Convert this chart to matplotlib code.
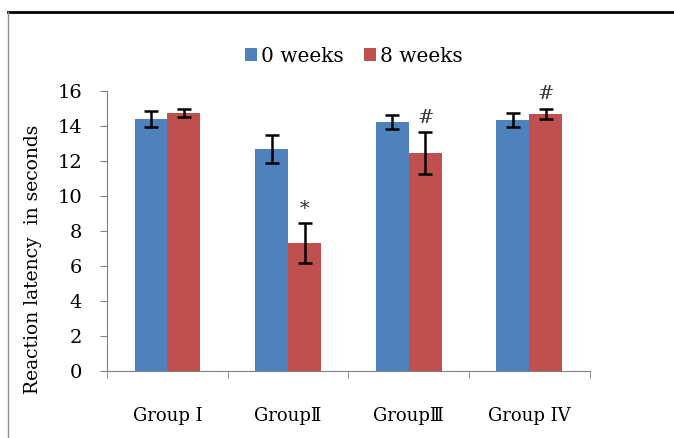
import matplotlib.pyplot as plt
import numpy as np
from matplotlib.lines import Line2D

groups = ["Group I", "Group\u2161", "Group\u2162", "Group IV"]
week0 = [14.4, 12.7, 14.25, 14.35]
week0_err = [0.45, 0.8, 0.4, 0.4]
week8 = [14.75, 7.3, 12.45, 14.7]
week8_err = [0.25, 1.15, 1.2, 0.3]
marks = ["", "*", "#", "#"]

plt.rcParams["font.family"] = ["DejaVu Serif"]

fig = plt.figure(figsize=(6.74, 4.38), dpi=100)
ax = fig.add_axes([0.159, 0.153, 0.716, 0.639])

x = np.arange(len(groups))
w = 0.273
err_style = dict(ecolor="black", elinewidth=1.8, capsize=5, capthick=1.8)
ax.bar(x - w / 2, week0, w, yerr=week0_err, color="#4F81BD", label="0 weeks",
       error_kw=err_style)
ax.bar(x + w / 2, week8, w, yerr=week8_err, color="#C0504D", label="8 weeks",
       error_kw=err_style)

for xi, v, e, m in zip(x, week8, week8_err, marks):
    if m:
        ax.text(xi + w / 2, v + e + 0.3, m, ha="center", va="bottom",
                fontsize=14, color="#333333")

ax.set_xlim(-0.5, len(groups) - 0.5)
ax.set_ylim(0, 16)
ax.set_yticks(range(0, 17, 2))
ax.set_xticks(x)
ax.set_xticklabels(groups, fontsize=13)
ax.set_xticks(np.arange(-0.5, len(groups), 1), minor=True)
ax.tick_params(axis="x", which="major", length=0, pad=26)
ax.tick_params(axis="x", which="minor", length=5, color="#808080", direction="out")
ax.tick_params(axis="y", labelsize=14, length=5, color="#808080", direction="out",
               pad=13)
for s in ["top", "right"]:
    ax.spines[s].set_visible(False)
for s in ["left", "bottom"]:
    ax.spines[s].set_color("#808080")
ax.set_ylabel("Reaction latency  in seconds", fontsize=13.5)
ax.yaxis.set_label_coords(-0.135, 0.40)

fig.legend(loc="center", bbox_to_anchor=(0.525, 0.872), ncol=2, frameon=False,
           fontsize=14.5, handlelength=0.6, handleheight=0.6, handletextpad=0.2,
           columnspacing=1.0)

# frame around the figure
fig.add_artist(Line2D([8 / 674, 1], [1 - 12 / 438] * 2, color="black", lw=2))
fig.add_artist(Line2D([8 / 674] * 2, [0, 1 - 12 / 438], color="#909090", lw=1))

fig.savefig("out.png", dpi=100)
